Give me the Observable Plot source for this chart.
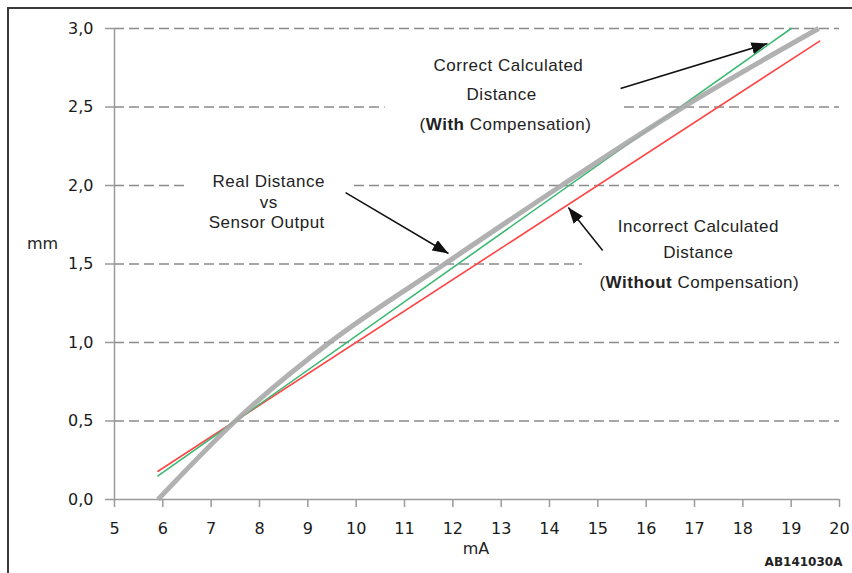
<!DOCTYPE html>
<html><head><meta charset="utf-8">
<script src="https://cdn.jsdelivr.net/npm/d3@7"></script>
<script src="https://cdn.jsdelivr.net/npm/@observablehq/plot@0.6"></script>
<style>
body{margin:0;background:#fff;}
#wrap{position:relative;width:852px;height:573px;overflow:hidden;}
#frame{position:absolute;left:7px;top:7px;width:900px;height:700px;border-left:2px solid #3a3a3a;border-top:2px solid #3a3a3a;pointer-events:none;}
#chart{position:absolute;left:0;top:0;}
</style></head><body>
<div id="wrap"><div id="chart"></div><div id="frame"></div></div>
<script>
// Axis ticks
const xTicks = [5,6,7,8,9,10,11,12,13,14,15,16,17,18,19,20];
const yTicks = [0,0.5,1.0,1.5,2.0,2.5,3.0];

// Series: Real Distance vs Sensor Output (gray)
const realX = [5.9, 7.5, 9.45, 11.83, 14.25, 16.77, 19.57];
const realY = [0, 0.5, 1.0, 1.5, 2.0, 2.5, 3.0];
// Correct calculated distance (with compensation, green)
const correctX = [5.9, 19.0];
const correctY = [0.15, 3.0];
// Incorrect calculated distance (without compensation, red)
const incorrectX = [5.9, 19.59];
const incorrectY = [0.18, 2.92];

// Annotation texts (data coordinates)
const labelText = ["Correct Calculated","Distance","(With Compensation)",
                   "Real Distance","vs","Sensor Output",
                   "Incorrect Calculated","Distance","(Without Compensation)"];
const labelX = [13.15, 13.01, 13.09, 8.19, 8.19, 8.15, 17.08, 17.08, 17.10];
const labelY = [2.764, 2.580, 2.389, 2.025, 1.892, 1.764, 1.739, 1.573, 1.382];

// Arrows (data coordinates)
const arrowX1 = [15.47, 9.78, 15.10];
const arrowY1 = [2.618, 1.955, 1.586];
const arrowX2 = [18.51, 11.91, 14.39];
const arrowY2 = [2.904, 1.567, 1.860];

// White boxes behind annotation blocks (hide gridlines)
const maskX1 = [10.60, 6.51, 14.68];
const maskX2 = [15.47, 9.88, 20.1];
const maskY1 = [2.29, 1.66, 1.27];
const maskY2 = [2.86, 2.13, 1.90];

const toRows = (xs, ys) => xs.map((x, i) => ({x, y: ys[i]}));
const real = toRows(realX, realY);
const correct = toRows(correctX, correctY);
const incorrect = toRows(incorrectX, incorrectY);
const labels = labelText.map((t, i) => ({t, x: labelX[i], y: labelY[i]}));
const arrows = arrowX1.map((x1, i) => ({x1, y1: arrowY1[i], x2: arrowX2[i], y2: arrowY2[i]}));
const masks = maskX1.map((x1, i) => ({x1, x2: maskX2[i], y1: maskY1[i], y2: maskY2[i]}));

const axisGray = "#9a9a9a";

const plot = Plot.plot({
  width: 852, height: 573,
  marginLeft: 114, marginRight: 13, marginTop: 28, marginBottom: 74,
  x: {domain: [5, 20]},
  y: {domain: [0, 3]},
  style: {fontFamily: "DejaVu Sans", fontSize: "16px", color: "#1a1a1a", background: "white"},
  marks: [
    Plot.ruleY(yTicks.filter(d => d > 0), {stroke: "#8a8a8a", strokeWidth: 1.3, strokeDasharray: "10,5"}),
    Plot.rect(masks, {x1: "x1", x2: "x2", y1: "y1", y2: "y2", fill: "white"}),
    Plot.axisY({ticks: yTicks, tickSize: 9, tickPadding: 12, tickFormat: d => d.toFixed(1).replace(".", ","),
                stroke: axisGray, strokeWidth: 1.5, label: null, fontSize: 16}),
    Plot.axisX({ticks: xTicks, tickSize: 8, tickPadding: 15, tickFormat: d => String(d),
                stroke: axisGray, strokeWidth: 1.5, label: null, fontSize: 16}),
    Plot.ruleX([5], {stroke: axisGray, strokeWidth: 1.5}),
    Plot.ruleY([0], {stroke: axisGray, strokeWidth: 1.5}),
    Plot.line(incorrect, {x: "x", y: "y", stroke: "#ff4545", strokeWidth: 1.6}),
    Plot.line(correct, {x: "x", y: "y", stroke: "#3cb873", strokeWidth: 1.6}),
    Plot.line(real, {x: "x", y: "y", stroke: "#a9a9a9", strokeWidth: 5, curve: "monotone-x", strokeLinecap: "butt", strokeOpacity: 0.9}),
    Plot.link(arrows, {x1: "x1", y1: "y1", x2: "x2", y2: "y2", stroke: "#111", strokeWidth: 1.5}),
    Plot.text(labels, {x: "x", y: "y", text: "t", fontFamily: "Liberation Sans", fontSize: 17, fill: "#222"}),
    Plot.text(["mm"], {frameAnchor: "left", textAnchor: "middle", dx: -72, dy: -20, fontSize: 16, fill: "#222"}),
    Plot.text(["mA"], {frameAnchor: "bottom", textAnchor: "middle", dx: -1, dy: 54, fontSize: 16, fill: "#222"}),
    Plot.text(["AB141030A"], {frameAnchor: "bottom-right", textAnchor: "middle", dx: -36, dy: 66, fontSize: 12, fontWeight: "bold", fill: "#222"})
  ]
});

// Filled triangular arrowheads
const ns = "http://www.w3.org/2000/svg";
const defs = document.createElementNS(ns, "defs");
const marker = document.createElementNS(ns, "marker");
marker.setAttribute("id", "tri");
marker.setAttribute("viewBox", "0 0 16 12");
marker.setAttribute("refX", "16");
marker.setAttribute("refY", "6");
marker.setAttribute("markerUnits", "userSpaceOnUse");
marker.setAttribute("markerWidth", "16");
marker.setAttribute("markerHeight", "12");
marker.setAttribute("orient", "auto");
const mp = document.createElementNS(ns, "path");
mp.setAttribute("d", "M0,0L16,6L0,12Z");
mp.setAttribute("fill", "#111");
marker.appendChild(mp);
defs.appendChild(marker);
plot.appendChild(defs);
plot.querySelectorAll('g[aria-label="link"] path').forEach(p => p.setAttribute("marker-end", "url(#tri)"));

// Annotation text: letter spacing and bold words
plot.querySelectorAll('text').forEach(t => {
  const s = t.textContent;
  if (labelText.includes(s)) t.setAttribute("letter-spacing", "0.5");
  const m = s.match(/^\((With|Without)( .*)$/);
  if (m) {
    t.textContent = "";
    t.appendChild(document.createTextNode("("));
    const b = document.createElementNS(ns, "tspan");
    b.setAttribute("font-weight", "bold");
    b.textContent = m[1];
    t.appendChild(b);
    t.appendChild(document.createTextNode(m[2]));
  }
});

document.getElementById("chart").appendChild(plot);
</script>
</body></html>
